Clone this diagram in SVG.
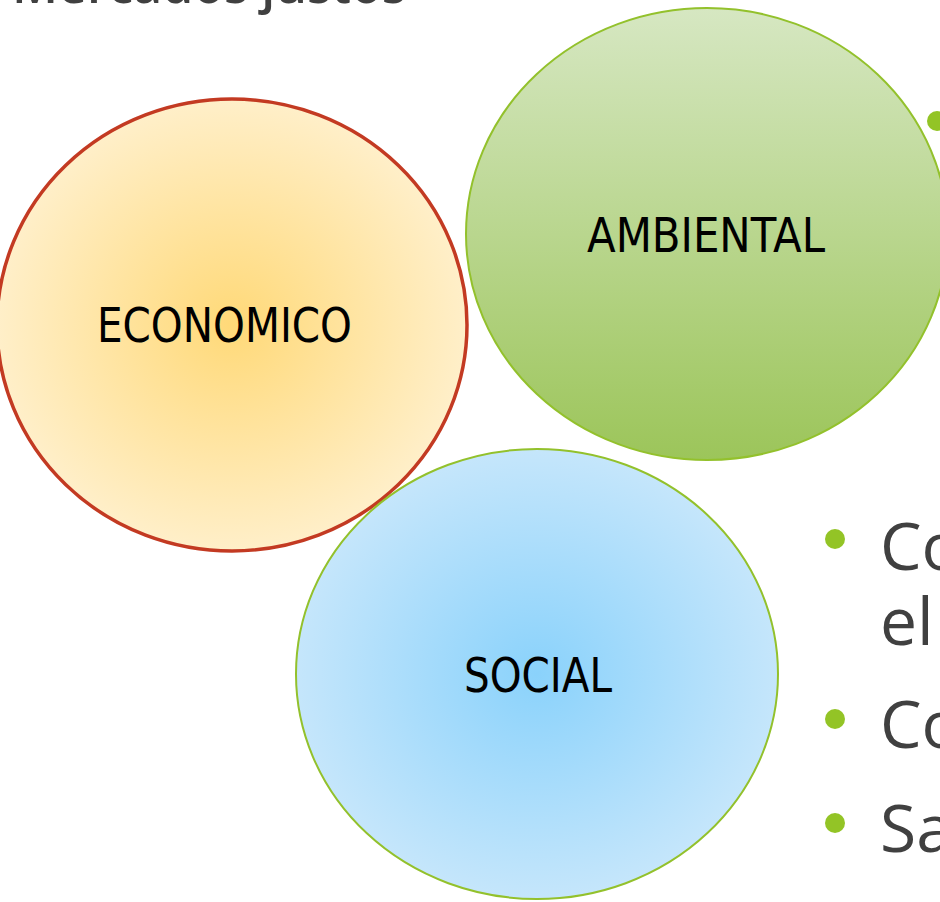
<svg xmlns="http://www.w3.org/2000/svg" width="940" height="902" viewBox="0 0 940 902">
<defs>
<radialGradient id="gEco" cx="0.5" cy="0.5" r="0.5">
<stop offset="0" stop-color="#FFD978"/>
<stop offset="1" stop-color="#FFEFC9"/>
</radialGradient>
<linearGradient id="gAmb" x1="0" y1="0" x2="0" y2="1">
<stop offset="0" stop-color="#D6E7C2"/>
<stop offset="1" stop-color="#9CC55A"/>
</linearGradient>
<radialGradient id="gSoc" cx="0.5" cy="0.5" r="0.5">
<stop offset="0" stop-color="#8AD2FB"/>
<stop offset="1" stop-color="#C5E6FB"/>
</radialGradient>
<style>
.lbl{font-family:"DejaVu Sans","Open Sans",sans-serif;font-size:48px;fill:#000}
.txt{font-family:"Open Sans","DejaVu Sans",sans-serif;font-size:66px;fill:#404040}
.bul{fill:#93C426}
</style>
</defs>
<text class="txt" x="406" y="3" text-anchor="end" style="font-size:50px;font-weight:600">Mercados justos</text>
<g id="bullets">
<circle class="bul" cx="937" cy="121" r="10"/>
<circle class="bul" cx="835" cy="539" r="10"/>
<circle class="bul" cx="835" cy="719" r="10"/>
<circle class="bul" cx="835" cy="823" r="10"/>
<text class="txt" x="880" y="570">Co</text>
<text class="txt" x="880" y="645">el</text>
<text class="txt" x="880" y="748">Co</text>
<text class="txt" x="880" y="852">Sa</text>
</g>
<g id="economico">
<ellipse cx="232" cy="325" rx="235" ry="226" fill="url(#gEco)" stroke="#C33A22" stroke-width="3.5"/>
<text class="lbl" x="97" y="342" textLength="255" lengthAdjust="spacingAndGlyphs">ECONOMICO</text>
</g>
<g id="ambiental">
<ellipse cx="707" cy="234" rx="241" ry="226" fill="url(#gAmb)" stroke="#93C12C" stroke-width="2"/>
<text class="lbl" x="587" y="252" textLength="238" lengthAdjust="spacingAndGlyphs">AMBIENTAL</text>
</g>
<g id="social">
<ellipse cx="537" cy="674" rx="241" ry="225" fill="url(#gSoc)" stroke="#93C12C" stroke-width="2"/>
<text class="lbl" x="464" y="692" textLength="148" lengthAdjust="spacingAndGlyphs">SOCIAL</text>
</g>
<g id="connectors"/>
</svg>
